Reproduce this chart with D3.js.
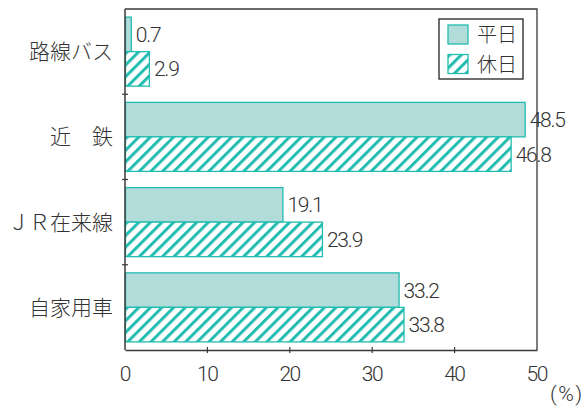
<!DOCTYPE html>
<html>
<head>
<meta charset="utf-8">
<script src="https://cdn.jsdelivr.net/npm/d3@7"></script>
<style>
  body { margin: 0; background: #fff; }
  text { font-family: Roboto, "Noto Sans CJK JP", sans-serif; font-weight: 300; fill: #333; }
  .jp { font-family: "Noto Sans CJK JP", sans-serif; font-weight: 300; }
</style>
</head>
<body>
<div id="chart"></div>
<script>
// categories top to bottom
var categories = ["路線バス", "近　鉄", "ＪＲ在来線", "自家用車"];
var seriesNames = ["平日", "休日"];
var weekday = [0.7, 48.5, 19.1, 33.2];
var holiday = [2.9, 46.8, 23.9, 33.8];
var xTicks = [0, 10, 20, 30, 40, 50];

var totalWidth = 587, totalHeight = 407;
var margin = { top: 9, right: 50, bottom: 57, left: 125 };
var width = totalWidth - margin.left - margin.right;
var height = totalHeight - margin.top - margin.bottom;

var teal = "#22bcb0";
var lightTeal = "#b1dcda";
var axisColor = "#3a3a3a";

var svg = d3.select("#chart").append("svg")
    .attr("width", totalWidth)
    .attr("height", totalHeight);

// hatch pattern for holiday
var defs = svg.append("defs");
var pat = defs.append("pattern")
    .attr("id", "hatch")
    .attr("patternUnits", "userSpaceOnUse")
    .attr("width", 8.2)
    .attr("height", 8.2)
    .attr("patternTransform", "rotate(45)");
pat.append("rect").attr("width", 8.2).attr("height", 8.2).attr("fill", "#fff");
pat.append("rect").attr("x", 0).attr("y", 0).attr("width", 3).attr("height", 8.2).attr("fill", teal);

var g = svg.append("g").attr("transform", "translate(" + margin.left + "," + margin.top + ")");

var xScale = d3.scaleLinear().domain([0, 50]).range([0, width]);
var yScale = d3.scaleBand().domain(categories).range([0, height]).paddingInner(0.19).paddingOuter(0.095);
var inner = d3.scaleBand().domain(seriesNames).range([0, yScale.bandwidth()]);

var rows = categories.map(function(c, i) {
    return { cat: c, values: [ { s: "平日", v: weekday[i] }, { s: "休日", v: holiday[i] } ] };
});

// frame (top and right)
g.append("path")
    .attr("d", "M0,0H" + width + "V" + height)
    .attr("fill", "none")
    .attr("stroke", axisColor)
    .attr("stroke-width", 1.3);

// bars
var rowG = g.selectAll(".row").data(rows).enter().append("g")
    .attr("transform", function(d) { return "translate(0," + yScale(d.cat) + ")"; });

rowG.selectAll("rect").data(function(d) { return d.values; }).enter().append("rect")
    .attr("x", 0.5)
    .attr("y", function(d) { return inner(d.s); })
    .attr("width", function(d) { return xScale(d.v); })
    .attr("height", inner.bandwidth())
    .attr("fill", function(d) { return d.s === "平日" ? lightTeal : "url(#hatch)"; })
    .attr("stroke", teal)
    .attr("stroke-width", 1.3);

rowG.selectAll(".val").data(function(d) { return d.values; }).enter().append("text")
    .attr("x", function(d) { return xScale(d.v) + 5; })
    .attr("y", function(d) { return inner(d.s) + inner.bandwidth() / 2; })
    .attr("dy", "0.36em")
    .attr("font-size", 21)
    .attr("letter-spacing", -1.2)
    .text(function(d) { return d.v.toFixed(1); });

// y axis
g.append("line").attr("x1", 0).attr("x2", 0).attr("y1", 0).attr("y2", height)
    .attr("stroke", axisColor).attr("stroke-width", 1.5);
var step = yScale.step();
g.selectAll(".ytick").data(categories.slice(1)).enter().append("line")
    .attr("x1", -3).attr("x2", 3)
    .attr("y1", function(d) { return yScale(d) - step * yScale.paddingInner() / 2; })
    .attr("y2", function(d) { return yScale(d) - step * yScale.paddingInner() / 2; })
    .attr("stroke", axisColor).attr("stroke-width", 1.2);

g.selectAll(".ylab").data(categories).enter().append("text")
    .attr("class", "jp")
    .attr("x", -12)
    .attr("y", function(d) { return yScale(d) + yScale.bandwidth() / 2; })
    .attr("dy", "0.36em")
    .attr("text-anchor", "end")
    .attr("font-size", 21)
    .text(function(d) { return d; });

// x axis
var xAxis = d3.axisBottom(xScale).tickValues(xTicks).tickSizeInner(0).tickSizeOuter(0).tickPadding(16);
var xAxisGroup = g.append("g").attr("transform", "translate(0," + height + ")").call(xAxis);
xAxisGroup.selectAll("path").attr("stroke", axisColor).attr("stroke-width", 1.5);
xAxisGroup.selectAll("text").attr("font-size", 21).attr("fill", "#333")
    .style("font-family", "Roboto, sans-serif").style("font-weight", 300)
    .attr("letter-spacing", -1.5).attr("dx", -0.75);
g.selectAll(".xtick").data(xTicks.slice(1, -1)).enter().append("line")
    .attr("x1", function(d) { return xScale(d); }).attr("x2", function(d) { return xScale(d); })
    .attr("y1", height - 3).attr("y2", height + 3)
    .attr("stroke", axisColor).attr("stroke-width", 1.2);

g.append("text")
    .attr("x", width + 13)
    .attr("y", height + 51)
    .attr("font-size", 21)
    .attr("letter-spacing", 1.5)
    .text("(%)");

// legend
var legend = g.append("g").attr("transform", "translate(" + (width - 98) + ",10)");
legend.append("rect").attr("width", 84).attr("height", 60)
    .attr("fill", "#fff").attr("stroke", "#222").attr("stroke-width", 1.3);
var li = legend.selectAll(".li").data(seriesNames).enter().append("g")
    .attr("transform", function(d, i) { return "translate(9," + (6 + i * 29.5) + ")"; });
li.append("rect").attr("width", 20).attr("height", 19)
    .attr("fill", function(d) { return d === "平日" ? lightTeal : "url(#hatch)"; })
    .attr("stroke", teal).attr("stroke-width", 1.3);
li.append("text").attr("class", "jp")
    .attr("x", 29).attr("y", 10).attr("dy", "0.36em")
    .attr("font-size", 20)
    .text(function(d) { return d; });
</script>
</body>
</html>
